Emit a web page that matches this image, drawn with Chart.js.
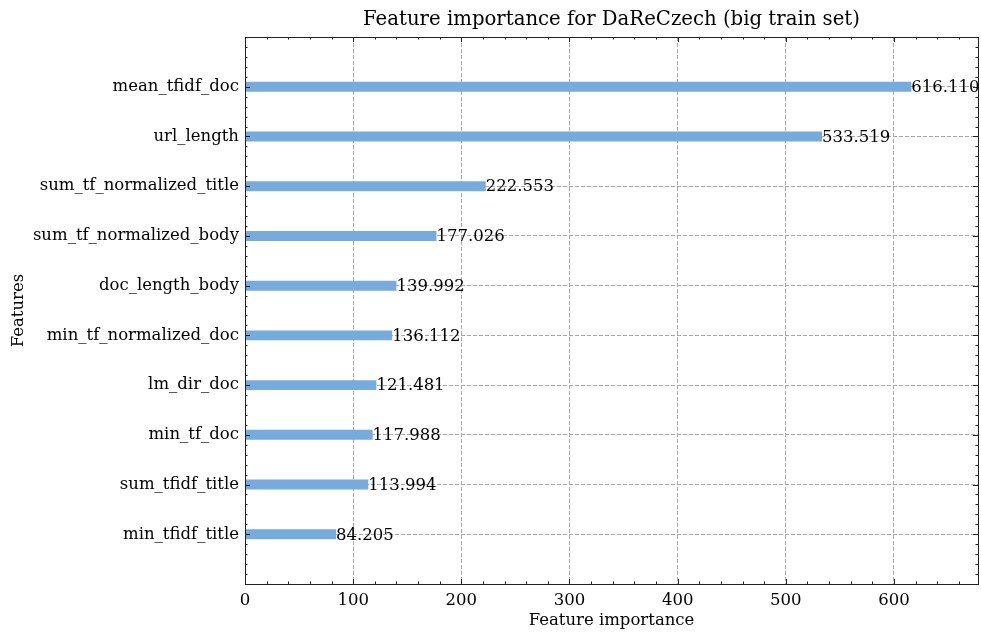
<!DOCTYPE html>
<html>
<head>
<meta charset="utf-8">
<script src="https://cdn.jsdelivr.net/npm/chart.js@4/dist/chart.umd.min.js"></script>
<style>
  html, body { margin: 0; padding: 0; background: #ffffff; }
  #wrap { width: 981px; height: 632px; }
</style>
</head>
<body>
<div id="wrap"><canvas id="c" width="981" height="632"></canvas></div>
<script>
// ---- data (bottom to top) ----
const features = [
  "min_tfidf_title",
  "sum_tfidf_title",
  "min_tf_doc",
  "lm_dir_doc",
  "min_tf_normalized_doc",
  "doc_length_body",
  "sum_tf_normalized_body",
  "sum_tf_normalized_title",
  "url_length",
  "mean_tfidf_doc"
];
const importance = [84.205, 113.994, 117.988, 121.481, 136.112, 139.992, 177.026, 222.553, 533.519, 616.110];
const xTickValues = [0, 100, 200, 300, 400, 500, 600];
const titleText = "Feature importance for DaReCzech (big train set)";
const xTitle = "Feature importance";
const yTitle = "Features";

const FONT = "'DejaVu Serif', serif";
const xMax = Math.max(...importance) * 1.1;

const points = importance.map((v, i) => ({ x: v, y: i }));

const frameTicks = {
  id: 'frameTicks',
  afterDatasetsDraw(chart) {
    const { ctx, chartArea: a, scales } = chart;
    const xs = scales.x, ys = scales.y;
    ctx.save();
    ctx.strokeStyle = '#222';
    ctx.lineWidth = 1;
    for (let v = 0; v <= xMax + 1e-9; v += 20) {
      const major = Math.abs(v % 100) < 1e-9;
      const len = major ? 5 : 2.5;
      const px = Math.round(xs.getPixelForValue(v)) + 0.5;
      ctx.beginPath();
      ctx.moveTo(px, a.bottom); ctx.lineTo(px, a.bottom - len);
      ctx.moveTo(px, a.top); ctx.lineTo(px, a.top + len);
      ctx.stroke();
    }
    for (let k = -5; k <= 50; k++) {
      const v = k / 5;
      const major = k % 5 === 0 && v >= 0 && v <= features.length - 1;
      const len = major ? 5 : 2.5;
      const py = Math.round(ys.getPixelForValue(v)) + 0.5;
      ctx.beginPath();
      ctx.moveTo(a.left, py); ctx.lineTo(a.left + len, py);
      ctx.moveTo(a.right, py); ctx.lineTo(a.right - len, py);
      ctx.stroke();
    }
    ctx.strokeRect(Math.round(a.left) + 0.5, Math.round(a.top) + 0.5,
                   Math.round(a.right - a.left), Math.round(a.bottom - a.top));
    ctx.fillStyle = '#000';
    ctx.font = "16.5px " + FONT;
    ctx.textAlign = 'left';
    ctx.textBaseline = 'middle';
    importance.forEach((v, i) => {
      ctx.fillText(v.toFixed(3), xs.getPixelForValue(v), ys.getPixelForValue(i) + 1);
    });
    ctx.restore();
  }
};

new Chart(document.getElementById('c'), {
  type: 'bar',
  data: {
    datasets: [{
      data: points,
      backgroundColor: '#77AADD',
      borderWidth: 0,
      categoryPercentage: 1.0,
      barPercentage: 0.2
    }]
  },
  options: {
    indexAxis: 'y',
    responsive: false,
    animation: false,
    layout: { padding: { left: 0, right: 3, top: 0, bottom: 0 } },
    plugins: {
      legend: { display: false },
      tooltip: { enabled: false },
      title: {
        display: true,
        text: titleText,
        fullSize: false,
        color: '#000',
        font: { family: FONT, size: 19.7, weight: 'normal', lineHeight: 1.2 },
        padding: { top: 8, bottom: 5.4 }
      }
    },
    scales: {
      x: {
        type: 'linear',
        position: 'bottom',
        min: 0,
        max: xMax,
        offset: false,
        afterBuildTicks(scale) { scale.ticks = xTickValues.map(v => ({ value: v })); },
        afterFit(scale) { scale.height = 48; },
        grid: { color: '#a8a8a8', lineWidth: 1, drawTicks: false, offset: false },
        border: { display: false, dash: [4, 2] },
        ticks: {
          color: '#000',
          padding: 7,
          maxRotation: 0,
          font: { family: FONT, size: 16.5 },
          callback: v => String(v)
        },
        title: {
          display: true,
          text: xTitle,
          color: '#000',
          font: { family: FONT, size: 16.5, lineHeight: 1.2 },
          padding: { top: 0, bottom: 1 }
        }
      },
      y: {
        type: 'linear',
        position: 'left',
        min: -1,
        max: features.length,
        offset: false,
        afterBuildTicks(scale) { scale.ticks = features.map((f, i) => ({ value: i })); },
        afterFit(scale) { scale.width = 245; },
        grid: { color: '#a8a8a8', lineWidth: 1, drawTicks: false, offset: false },
        border: { display: false, dash: [4, 2] },
        ticks: {
          color: '#000',
          padding: 6,
          font: { family: FONT, size: 16.5 },
          callback: v => features[v] !== undefined ? features[v] : ''
        },
        title: {
          display: true,
          text: yTitle,
          color: '#000',
          font: { family: FONT, size: 16.5, lineHeight: 1.2 },
          padding: { top: 9, bottom: 0 }
        }
      }
    }
  },
  plugins: [frameTicks]
});
</script>
</body>
</html>
